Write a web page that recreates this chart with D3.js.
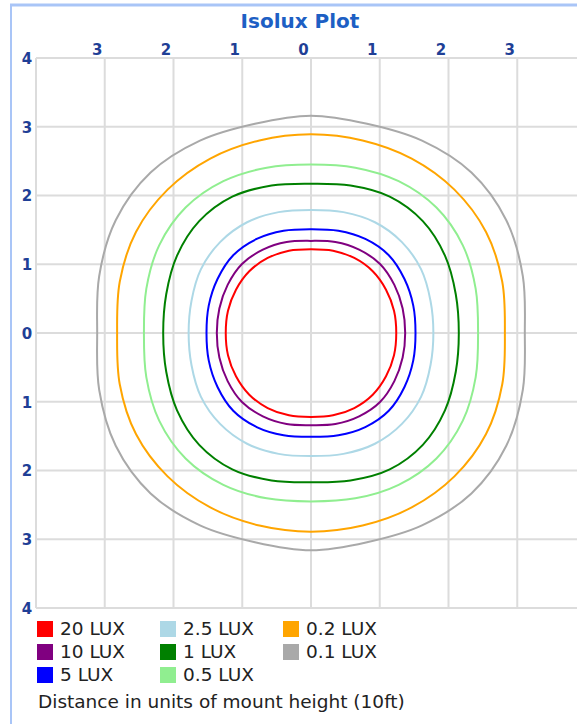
<!DOCTYPE html>
<html>
<head>
<meta charset="utf-8">
<script src="https://d3js.org/d3.v7.min.js"></script>
<style>
  body { margin: 0; background: #fff; }
  svg { display: block; }
</style>
</head>
<body>
<svg width="577" height="724"></svg>
<script>
// isolux levels, legend order is column by column
const levels = ["20 LUX", "10 LUX", "5 LUX", "2.5 LUX", "1 LUX", "0.5 LUX", "0.2 LUX", "0.1 LUX"];
const levelColors = ["#ff0000", "#800080", "#0000ff", "#add8e6", "#008000", "#90ee90", "#ffa500", "#a9a9a9"];

const angles = [0, 15, 30, 45, 60, 75, 90];
const r20  = [1.24, 1.25, 1.26, 1.27, 1.26, 1.24, 1.22];
const r10  = [1.37, 1.38, 1.40, 1.42, 1.40, 1.37, 1.34];
const r5   = [1.52, 1.54, 1.57, 1.60, 1.58, 1.54, 1.51];
const r2_5 = [1.78, 1.80, 1.85, 1.87, 1.86, 1.82, 1.79];
const r1   = [2.15, 2.18, 2.25, 2.30, 2.29, 2.22, 2.17];
const r0_5 = [2.43, 2.48, 2.55, 2.58, 2.55, 2.49, 2.45];
const r0_2 = [2.82, 2.88, 2.94, 2.95, 2.93, 2.90, 2.89];
const r0_1 = [3.11, 3.19, 3.28, 3.30, 3.23, 3.15, 3.16];
const radii = [r20, r10, r5, r2_5, r1, r0_5, r0_2, r0_1];

const xTicks = [-3, -2, -1, 0, 1, 2, 3];
const yTicks = [-4, -3, -2, -1, 0, 1, 2, 3, 4];
const gridX = [-4, -3, -2, -1, 0, 1, 2, 3, 4];

const svg = d3.select('svg');

const x = d3.scaleLinear().domain([-4, 4]).range([36, 586]);
const y = d3.scaleLinear().domain([-4, 4]).range([608, 58]);

// outer frame
svg.append('line').attr('x1', 11).attr('x2', 11).attr('y1', 4).attr('y2', 724)
  .attr('stroke', '#a9c5f7').attr('stroke-width', 2);
svg.append('line').attr('x1', 10).attr('x2', 577).attr('y1', 5).attr('y2', 5)
  .attr('stroke', '#a9c5f7').attr('stroke-width', 3);

// title
svg.append('text')
  .attr('x', 300).attr('y', 28)
  .attr('text-anchor', 'middle')
  .attr('font-family', 'DejaVu Sans')
  .attr('font-weight', 'bold')
  .attr('font-size', 20)
  .attr('fill', '#1d5fc4')
  .text('Isolux Plot');

// grid
const grid = svg.append('g').attr('stroke', '#dcdcdc').attr('stroke-width', 2);
grid.selectAll('.gx').data(gridX).enter().append('line')
  .attr('x1', d => x(d)).attr('x2', d => x(d))
  .attr('y1', y(4)).attr('y2', y(-4));
grid.selectAll('.gy').data(yTicks).enter().append('line')
  .attr('x1', x(-4)).attr('x2', x(4))
  .attr('y1', d => y(d)).attr('y2', d => y(d));

// axes (labels only)
const topAxis = svg.append('g')
  .attr('transform', `translate(0,${y(4)})`)
  .call(d3.axisTop(x).tickValues(xTicks).tickSize(0).tickPadding(3).tickFormat(d => Math.abs(d)));
const leftAxis = svg.append('g')
  .attr('transform', `translate(${x(-4)},0)`)
  .call(d3.axisLeft(y).tickValues(yTicks).tickSize(0).tickFormat(d => Math.abs(d)));

[topAxis, leftAxis].forEach(g => {
  g.select('.domain').remove();
  g.selectAll('text')
    .attr('font-family', 'DejaVu Sans')
    .attr('font-weight', 'bold')
    .attr('font-size', 15)
    .attr('fill', '#1f3f96');
});
topAxis.selectAll('text').attr('dx', -8);
leftAxis.selectAll('text').attr('x', -9).attr('text-anchor', 'middle').attr('dy', '0.36em');

// contours: mirror the quadrant readings round the full circle
function ring(r) {
  const pts = [];
  for (let a = 0; a < 360; a += 15) {
    let q;
    if (a <= 90) q = a;
    else if (a <= 180) q = 180 - a;
    else if (a <= 270) q = a - 180;
    else q = 360 - a;
    const rr = r[angles.indexOf(q)];
    const t = a * Math.PI / 180;
    pts.push([rr * Math.cos(t), rr * Math.sin(t)]);
  }
  return pts;
}

const line = d3.line()
  .x(d => x(d[0]))
  .y(d => y(d[1]))
  .curve(d3.curveCatmullRomClosed);

svg.append('g').selectAll('path')
  .data(radii)
  .enter().append('path')
  .attr('d', d => line(ring(d)))
  .attr('fill', 'none')
  .attr('stroke', (d, i) => levelColors[i])
  .attr('stroke-width', 2);

// legend
const legend = svg.append('g');
const item = legend.selectAll('g').data(levels).enter().append('g')
  .attr('transform', (d, i) => `translate(${37 + Math.floor(i / 3) * 123},${621 + (i % 3) * 23})`);
item.append('rect')
  .attr('width', 16).attr('height', 16)
  .attr('fill', (d, i) => levelColors[i]);
item.append('text')
  .attr('x', 23).attr('y', 14)
  .attr('font-family', 'DejaVu Sans')
  .attr('font-size', 18.5)
  .attr('fill', '#222')
  .text(d => d);

svg.append('text')
  .attr('x', 38).attr('y', 708)
  .attr('font-family', 'DejaVu Sans')
  .attr('font-size', 18.5)
  .attr('fill', '#222')
  .text('Distance in units of mount height (10ft)');
</script>
</body>
</html>
